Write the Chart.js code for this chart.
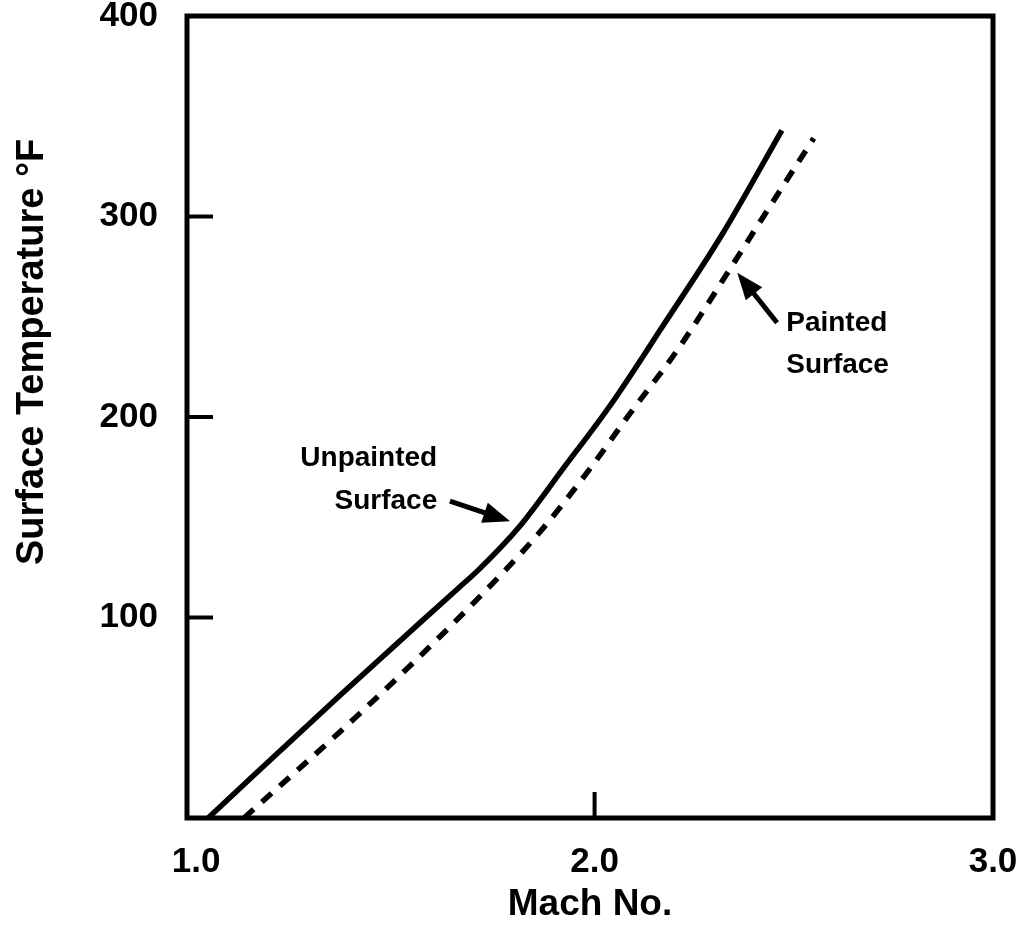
<!DOCTYPE html>
<html><head><meta charset="utf-8">
<script src="https://cdn.jsdelivr.net/npm/chart.js@4.4.1/dist/chart.umd.min.js"></script>
<style>html,body{margin:0;padding:0;background:#fff;}#wrap{width:1026px;height:944px;}</style>
</head><body><div id="wrap"><canvas id="c" width="1026" height="944"></canvas></div>
<script>
// ---- data ----
const machUnpainted = [1.03, 1.36, 1.66, 1.71, 1.81, 1.92, 2.04, 2.17, 2.32, 2.47];
const tempUnpainted = [0, 61, 115, 124, 145, 174, 206, 245, 291, 343];
const machPainted   = [1.12, 1.41, 1.69, 1.86, 1.98, 2.09, 2.21, 2.35, 2.44, 2.55];
const tempPainted   = [0, 52, 106, 142, 172, 202, 234, 277, 305, 339];
const xTickValues = [1.0, 2.0, 3.0];
const yTickValues = [100, 200, 300, 400];
const xInnerTicks = [2.0];
const yInnerTicks = [100, 200, 300];
const xTitle = 'Mach No.';
const yTitle = 'Surface Temperature °F';
const unpaintedLabel = ['Unpainted', 'Surface'];
const paintedLabel = ['Painted', 'Surface'];

// ---- annotation placement (data coordinates) ----
const annot = {
  unpainted: { textX: 1.605, baseY: [175.8, 154.0], align: 'right', from: [1.637, 158], to: [1.788, 148] },
  painted:   { textX: 2.481, baseY: [242.8, 221.8], align: 'left',  from: [2.458, 247], to: [2.358, 272] }
};

const FONT = '"Liberation Sans", Arial, Helvetica, sans-serif';
const pts = (xs, ys) => xs.map((x, i) => ({ x: x, y: ys[i] }));

function drawArrow(ctx, x1, y1, x2, y2, w, headLen, headW) {
  const a = Math.atan2(y2 - y1, x2 - x1);
  const bx = x2 - headLen * Math.cos(a), by = y2 - headLen * Math.sin(a);
  ctx.lineWidth = w;
  ctx.beginPath(); ctx.moveTo(x1, y1); ctx.lineTo(bx + Math.cos(a) * 2, by + Math.sin(a) * 2); ctx.stroke();
  ctx.beginPath();
  ctx.moveTo(x2, y2);
  ctx.lineTo(bx + headW / 2 * Math.sin(a), by - headW / 2 * Math.cos(a));
  ctx.lineTo(bx - headW / 2 * Math.sin(a), by + headW / 2 * Math.cos(a));
  ctx.closePath(); ctx.fill();
}

const framePlugin = {
  id: 'frame',
  afterDraw(chart) {
    const { ctx, chartArea: ca, scales: { x, y } } = chart;
    ctx.save();
    ctx.strokeStyle = '#000'; ctx.fillStyle = '#000';
    ctx.lineWidth = 5;
    ctx.strokeRect(ca.left, ca.top, ca.right - ca.left, ca.bottom - ca.top);
    ctx.lineWidth = 4;
    ctx.lineCap = 'butt';
    yInnerTicks.forEach(v => {
      const py = y.getPixelForValue(v);
      ctx.beginPath(); ctx.moveTo(ca.left, py); ctx.lineTo(ca.left + 26, py); ctx.stroke();
    });
    xInnerTicks.forEach(v => {
      const px = x.getPixelForValue(v);
      ctx.beginPath(); ctx.moveTo(px, ca.bottom); ctx.lineTo(px, ca.bottom - 26); ctx.stroke();
    });
    // y title
    ctx.font = 'bold 38px ' + FONT;
    ctx.textAlign = 'left'; ctx.textBaseline = 'alphabetic';
    ctx.translate(43, 565); ctx.rotate(-Math.PI / 2);
    ctx.fillText(yTitle, 0, 0);
    ctx.setTransform(1, 0, 0, 1, 0, 0);
    // annotations
    ctx.font = 'bold 28px ' + FONT;
    [[annot.unpainted, unpaintedLabel], [annot.painted, paintedLabel]].forEach(([a, lines]) => {
      ctx.textAlign = a.align;
      lines.forEach((t, i) => ctx.fillText(t, x.getPixelForValue(a.textX), y.getPixelForValue(a.baseY[i])));
      drawArrow(ctx, x.getPixelForValue(a.from[0]), y.getPixelForValue(a.from[1]),
        x.getPixelForValue(a.to[0]), y.getPixelForValue(a.to[1]), 5, 27, 21);
    });
    ctx.restore();
  }
};

function zeroPad(s) { s.paddingTop = 0; s.paddingBottom = 0; s.paddingLeft = 0; s.paddingRight = 0; }

new Chart(document.getElementById('c'), {
  type: 'line',
  data: {
    datasets: [
      { label: 'Unpainted Surface', data: pts(machUnpainted, tempUnpainted), borderColor: '#000', borderWidth: 5.5,
        pointRadius: 0, fill: false, cubicInterpolationMode: 'monotone', borderCapStyle: 'butt' },
      { label: 'Painted Surface', data: pts(machPainted, tempPainted), borderColor: '#000', borderWidth: 5.5,
        borderDash: [13, 11], pointRadius: 0, fill: false, cubicInterpolationMode: 'monotone', borderCapStyle: 'butt' }
    ]
  },
  options: {
    responsive: false, animation: false, devicePixelRatio: 1,
    layout: { padding: { top: 16, right: 33, left: 0, bottom: 0 } },
    plugins: { legend: { display: false }, tooltip: { enabled: false } },
    scales: {
      x: {
        type: 'linear', min: 0.977, max: 3.0,
        afterBuildTicks: s => { s.ticks = xTickValues.map(v => ({ value: v })); },
        afterFit: s => { s.height = 126; zeroPad(s); },
        grid: { display: false, drawTicks: false }, border: { display: false },
        ticks: { callback: v => Number(v).toFixed(1), color: '#000', padding: 23, maxRotation: 0,
          font: { family: FONT, size: 35, weight: 'bold' } },
        title: { display: true, text: xTitle, color: '#000', padding: { top: 0, bottom: 17 },
          font: { family: FONT, size: 37, weight: 'bold' } }
      },
      y: {
        type: 'linear', min: 0, max: 400,
        afterBuildTicks: s => { s.ticks = yTickValues.map(v => ({ value: v })); },
        afterFit: s => { s.width = 187; zeroPad(s); },
        grid: { display: false, drawTicks: false }, border: { display: false },
        ticks: { color: '#000', padding: 29, font: { family: FONT, size: 35, weight: 'bold', lineHeight: 0.9 } }
      }
    }
  },
  plugins: [framePlugin]
});
</script>
</body></html>
